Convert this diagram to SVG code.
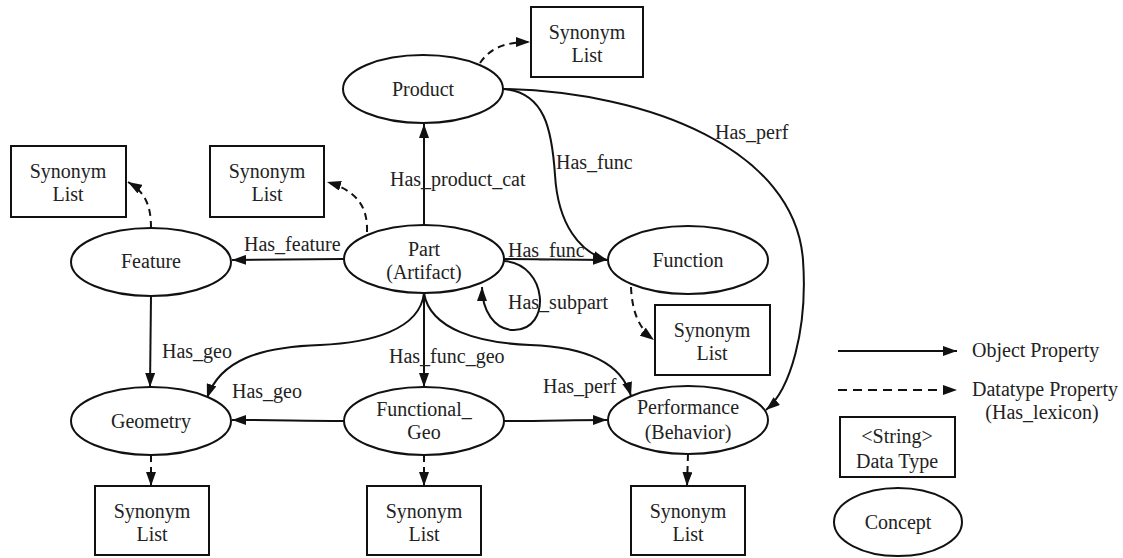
<svg xmlns="http://www.w3.org/2000/svg" width="1123" height="558" viewBox="0 0 1123 558">
  <style>
    text { font-family: "Liberation Serif", "Times New Roman", serif; font-size: 20px; fill: #222; }
    .c { text-anchor: middle; }
    .node { fill: #fff; stroke: #111; stroke-width: 2; }
    .edge { fill: none; stroke: #111; stroke-width: 2; }
    .obj { marker-end: url(#arrow); }
    .dat { stroke-dasharray: 7 5; marker-end: url(#arrow); }
  </style>
  <defs>
    <marker id="arrow" viewBox="0 0 14 10" refX="14" refY="5" markerWidth="14" markerHeight="10" markerUnits="userSpaceOnUse" orient="auto">
      <path d="M0,0 L14,5 L0,10 z" fill="#111"/>
    </marker>
  </defs>

  <rect width="1123" height="558" fill="#fff"/>

  <!-- connectors -->
  <g id="connectors">
    <!-- object properties -->
    <path class="edge obj" d="M424,225 L424,124"/>
    <path class="edge obj" d="M503,89 C545,92 552,130 555,175 C558,225 580,252 607,260"/>
    <path class="edge obj" d="M503,89 C650,92 795,150 803,260 C808,330 790,390 766,410"/>
    <path class="edge obj" d="M344,259 L232,260"/>
    <path class="edge obj" d="M504,259 L607,260"/>
    <path class="edge obj" d="M504,261 C548,264 552,330 514,330 C494,330 482,310 482,287"/>
    <path class="edge obj" d="M151,296 L150,387"/>
    <path class="edge obj" d="M424,293 C420,330 370,343 320,345 C260,347 220,360 207,398"/>
    <path class="edge obj" d="M424,293 L424,387"/>
    <path class="edge obj" d="M424,293 C430,330 480,343 530,345 C590,347 622,365 631,396"/>
    <path class="edge obj" d="M344,421 C300,421 280,420 232,420"/>
    <path class="edge obj" d="M504,421 C550,421 570,420 607,420"/>
    <!-- datatype properties -->
    <path class="edge dat" d="M480,63 C490,48 505,42 530,42"/>
    <path class="edge dat" d="M151,228 C151,205 145,192 128,182"/>
    <path class="edge dat" d="M367,232 C368,205 355,190 327,182"/>
    <path class="edge dat" d="M631,287 C632,310 638,328 654,340"/>
    <path class="edge dat" d="M151,455 L151,486"/>
    <path class="edge dat" d="M424,455 L424,486"/>
    <path class="edge dat" d="M688,454 L687,486"/>
    <!-- edge labels -->
    <text x="390" y="186">Has_product_cat</text>
    <text x="556" y="169">Has_func</text>
    <text x="715" y="139">Has_perf</text>
    <text x="244" y="251">Has_feature</text>
    <text x="508" y="257">Has_func</text>
    <text x="508" y="309">Has_subpart</text>
    <text x="162" y="358">Has_geo</text>
    <text x="389" y="363">Has_func_geo</text>
    <text x="232" y="398">Has_geo</text>
    <text x="543" y="393">Has_perf</text>
  </g>

  <!-- concepts -->
  <g id="product"><ellipse class="node" cx="423" cy="89" rx="80" ry="34"/><text class="c" x="423" y="96">Product</text></g>
  <g id="feature"><ellipse class="node" cx="151" cy="262" rx="80" ry="34"/><text class="c" x="151" y="268">Feature</text></g>
  <g id="part"><ellipse class="node" cx="424" cy="259" rx="80" ry="34"/><text class="c" x="424" y="256">Part</text><text class="c" x="424" y="279">(Artifact)</text></g>
  <g id="function"><ellipse class="node" cx="688" cy="260" rx="80" ry="34"/><text class="c" x="688" y="267">Function</text></g>
  <g id="geometry"><ellipse class="node" cx="151" cy="421" rx="80" ry="34"/><text class="c" x="151" y="428">Geometry</text></g>
  <g id="functional-geo"><ellipse class="node" cx="424" cy="421" rx="80" ry="34"/><text class="c" x="424" y="416">Functional_</text><text class="c" x="424" y="439">Geo</text></g>
  <g id="performance"><ellipse class="node" cx="688" cy="420" rx="80" ry="34"/><text class="c" x="688" y="414">Performance</text><text class="c" x="688" y="439">(Behavior)</text></g>

  <!-- synonym lists -->
  <g id="syn-product"><rect class="node" x="531" y="7" width="112" height="70"/><text class="c" x="587" y="39">Synonym</text><text class="c" x="587" y="62">List</text></g>
  <g id="syn-feature"><rect class="node" x="11" y="146" width="115" height="71"/><text class="c" x="68" y="178">Synonym</text><text class="c" x="68" y="201">List</text></g>
  <g id="syn-part"><rect class="node" x="210" y="146" width="114" height="71"/><text class="c" x="267" y="178">Synonym</text><text class="c" x="267" y="201">List</text></g>
  <g id="syn-function"><rect class="node" x="655" y="305" width="115" height="70"/><text class="c" x="712" y="337">Synonym</text><text class="c" x="712" y="360">List</text></g>
  <g id="syn-geometry"><rect class="node" x="95" y="486" width="114" height="69"/><text class="c" x="152" y="518">Synonym</text><text class="c" x="152" y="541">List</text></g>
  <g id="syn-functional-geo"><rect class="node" x="367" y="486" width="114" height="69"/><text class="c" x="424" y="518">Synonym</text><text class="c" x="424" y="541">List</text></g>
  <g id="syn-performance"><rect class="node" x="631" y="486" width="114" height="69"/><text class="c" x="688" y="518">Synonym</text><text class="c" x="688" y="541">List</text></g>

  <!-- legend -->
  <g id="legend">
    <path class="edge obj" d="M838,351 L957,351"/>
    <text x="972" y="357">Object Property</text>
    <path class="edge" stroke-dasharray="9 6" marker-end="url(#arrow)" d="M838,390 L957,390"/>
    <text x="972" y="396">Datatype Property</text>
    <text class="c" x="1042" y="419">(Has_lexicon)</text>
    <g id="legend-datatype"><rect class="node" x="840" y="417" width="115" height="60"/><text class="c" x="897" y="443">&lt;String&gt;</text><text class="c" x="897" y="468">Data Type</text></g>
    <g id="legend-concept"><ellipse class="node" cx="898" cy="522" rx="64" ry="34"/><text class="c" x="898" y="529">Concept</text></g>
  </g>
</svg>
